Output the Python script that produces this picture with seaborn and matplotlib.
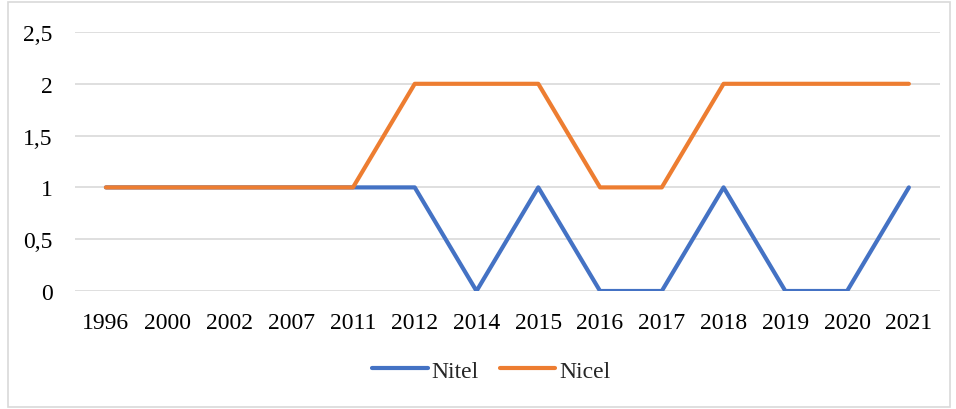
import matplotlib
matplotlib.use("Agg")
import matplotlib.pyplot as plt
import seaborn as sns
import pandas as pd
from matplotlib.patches import Rectangle
from matplotlib.lines import Line2D

years = ["1996", "2000", "2002", "2007", "2011", "2012", "2014", "2015",
         "2016", "2017", "2018", "2019", "2020", "2021"]
nitel = [1, 1, 1, 1, 1, 1, 0, 1, 0, 0, 1, 0, 0, 1]
nicel = [1, 1, 1, 1, 1, 2, 2, 2, 1, 1, 2, 2, 2, 2]
yticks = [0, 0.5, 1, 1.5, 2, 2.5]
ytick_labels = ["0", "0,5", "1", "1,5", "2", "2,5"]

sns.set_theme(style="white")
plt.rcParams['font.family'] = ['Liberation Serif', 'DejaVu Serif']

df = pd.DataFrame({
    "year": years * 2,
    "value": nitel + nicel,
    "series": ["Nitel"] * len(years) + ["Nicel"] * len(years),
})
df["pos"] = list(range(len(years))) * 2

fig = plt.figure(figsize=(9.56, 4.10), dpi=100)
ax = fig.add_axes([0.0785, 0.2878, 0.983 - 0.0785, 0.9195 - 0.2878])

sns.lineplot(data=df, x="pos", y="value", hue="series",
             palette={"Nitel": "#4472C4", "Nicel": "#ED7D31"},
             linewidth=3.0, sort=False, ax=ax, legend=False,
             solid_capstyle="round", solid_joinstyle="round")

ax.set_xlim(-0.5, len(years) - 0.5)
ax.set_ylim(0, 2.5)
ax.set_yticks(yticks)
ax.set_yticklabels(ytick_labels)
ax.set_xticks(range(len(years)))
ax.set_xticklabels(years)
ax.grid(axis="y", color="#d9d9d9", linewidth=1.2)
ax.set_axisbelow(True)
for s in ["top", "right", "left", "bottom"]:
    ax.spines[s].set_visible(False)
ax.tick_params(axis="both", length=0, labelsize=17, colors="black")
ax.tick_params(axis="y", pad=16)
ax.tick_params(axis="x", pad=15)
ax.set_xlabel("")
ax.set_ylabel("")

handles = [Line2D([], [], color="#4472C4", linewidth=3.0, solid_capstyle="round"),
           Line2D([], [], color="#ED7D31", linewidth=3.0, solid_capstyle="round")]
fig.legend(handles, ["Nitel", "Nicel"], loc="center", bbox_to_anchor=(0.514, 0.093),
           ncol=2, frameon=False, fontsize=17, handlelength=2.35, handletextpad=0.15,
           columnspacing=0.9)

fig.patches.append(Rectangle((8 / 956, 2 / 410), 942 / 956, 405 / 410,
                             transform=fig.transFigure, fill=False,
                             edgecolor="#d9d9d9", linewidth=1.2))

fig.savefig("out.png", dpi=100)
